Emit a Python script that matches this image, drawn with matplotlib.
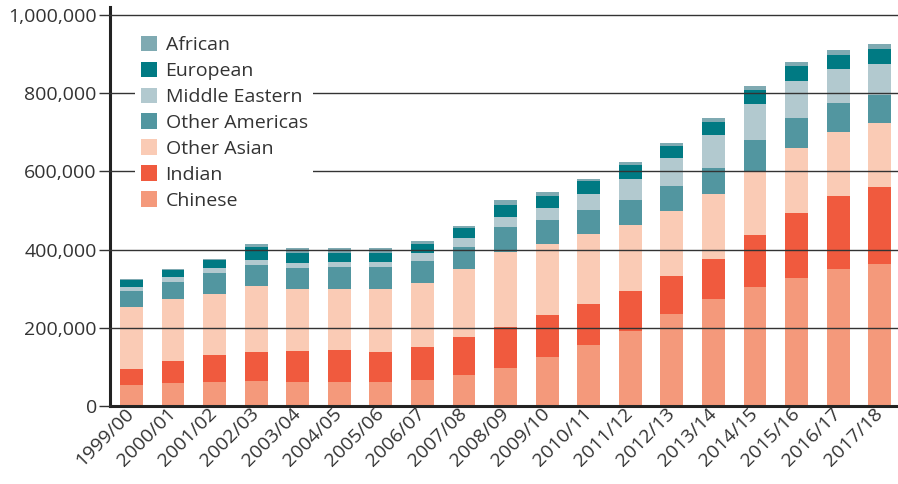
from matplotlib import pyplot as plt
from matplotlib import transforms
import numpy as np

plt.rcParams['font.family'] = ['Open Sans', 'DejaVu Sans']

years = ["1999/00", "2000/01", "2001/02", "2002/03", "2003/04", "2004/05",
         "2005/06", "2006/07", "2007/08", "2008/09", "2009/10", "2010/11",
         "2011/12", "2012/13", "2013/14", "2014/15", "2015/16", "2016/17",
         "2017/18"]

# cumulative tops, stacked bottom -> top
chinese_top = [54, 59, 61, 64, 61, 61, 61, 66, 79, 97, 125, 156, 192, 235, 274, 304, 327, 350, 363]
indian_top = [95, 115, 130, 138, 141, 143, 138, 151, 176, 202, 233, 261, 294, 332, 376, 437, 494, 537, 560]
other_asian_top = [253, 274, 286, 307, 299, 299, 299, 315, 350, 394, 414, 440, 463, 499, 542, 598, 660, 701, 724]
other_americas_top = [294, 317, 340, 361, 353, 355, 355, 371, 407, 458, 476, 501, 527, 563, 609, 680, 736, 775, 795]
middle_eastern_top = [304, 330, 353, 373, 366, 368, 368, 391, 430, 483, 506, 542, 580, 634, 693, 772, 831, 862, 875]
european_top = [322, 348, 373, 407, 391, 391, 391, 414, 455, 514, 537, 575, 616, 665, 726, 808, 869, 898, 913]
african_top = [324, 350, 375, 414, 404, 404, 404, 422, 460, 527, 547, 580, 624, 672, 736, 818, 880, 910, 926]

groups = ["Chinese", "Indian", "Other Asian", "Other Americas",
          "Middle Eastern", "European", "African"]
colors = ["#F4997B", "#F05A3E", "#FACBB5", "#5296A0",
          "#B2C9CF", "#007A83", "#7FAAB2"]

tops = np.array([chinese_top, indian_top, other_asian_top, other_americas_top,
                 middle_eastern_top, european_top, african_top]) * 1000.0
bottoms = np.vstack([np.zeros(len(years)), tops[:-1]])

fig = plt.figure(figsize=(8.98, 4.84), dpi=100)
ax = fig.add_axes([110 / 898, 78 / 484, 1 - 110 / 898, (406 - 7) / 484])

x = np.arange(len(years))
handles = []
for i, name in enumerate(groups):
    b = ax.bar(x, tops[i] - bottoms[i], bottom=bottoms[i], width=0.55,
               color=colors[i], label=name, zorder=1)
    handles.append(b)

ax.set_xlim(-0.517, 18.44)
ax.set_ylim(0, 1020000)
ax.set_yticks(np.arange(0, 1000001, 200000))
ax.set_yticklabels([f"{v:,}" for v in range(0, 1000001, 200000)])
ax.set_xticks(x)
ax.set_xticklabels(years, rotation=45, ha='right', va='center',
                   rotation_mode='anchor')
offset = transforms.ScaledTranslation(32 / 100, -28 / 100, fig.dpi_scale_trans)
for lab in ax.get_xticklabels():
    lab.set_transform(lab.get_transform() + offset)

ax.set_axisbelow(False)
ax.yaxis.grid(True, color="#333333", linewidth=1.0, zorder=2.5)
for s in ["top", "right"]:
    ax.spines[s].set_visible(False)
for s in ["left", "bottom"]:
    ax.spines[s].set_linewidth(2.2)
    ax.spines[s].set_color("#222222")
ax.tick_params(axis='y', length=8, width=1.0, color="#333333",
               labelsize=14, labelcolor="#333333", pad=1.5)
ax.tick_params(axis='x', length=0, labelsize=14, labelcolor="#333333")

leg = ax.legend(handles[::-1], groups[::-1], loc='upper left',
                bbox_to_anchor=(135 / 898, 1 - 30 / 484),
                bbox_transform=fig.transFigure, frameon=True, fancybox=False,
                edgecolor='none', facecolor='white', framealpha=1,
                fontsize=14, handlelength=0.85, handleheight=0.85,
                handletextpad=0.42, labelspacing=0.38, borderpad=0.3,
                borderaxespad=0)
for t in leg.get_texts():
    t.set_color("#333333")
leg.set_zorder(5)

fig.savefig("out.png", dpi=100)
